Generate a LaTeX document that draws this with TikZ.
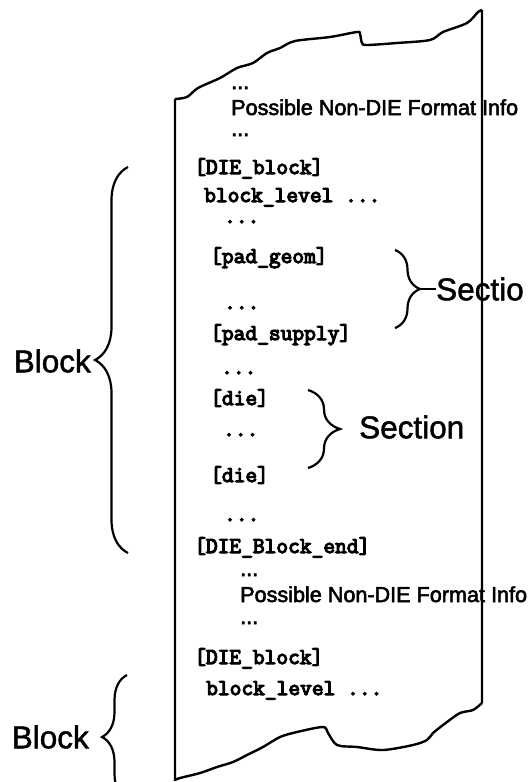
\documentclass[tikz,border=0pt]{standalone}
\usepackage{fontspec}
\setmainfont{Liberation Sans}
\newfontfamily\typefont{Latin Modern Mono}[FakeBold=5]
\newfontfamily\notefont{Liberation Sans}[FakeBold=2.5]
\newfontfamily\tagfont{Liberation Sans}[FakeBold=1.5]
\usetikzlibrary{decorations.pathreplacing}
\tikzset{
  code/.style={anchor=base west,inner sep=0,font=\fontsize{22.8}{26}\typefont},
  note/.style={anchor=base west,inner sep=0,font=\fontsize{21.6}{26}\notefont},
  tag/.style={anchor=west,inner sep=0,font=\fontsize{31.5}{36}\tagfont},
  curly/.style={line width=2.2pt,decorate,decoration={brace,amplitude=#1}},
  sheet/.style={line width=2.4pt,line join=round}
}
\begin{document}
\begin{tikzpicture}[x=1pt,y=-1pt]
  \useasboundingbox (0,0) rectangle (529,782);
  % first block of the file
  \node[note] (dots1) at (231,89) {...};
  \node[note] (info1) at (231,115) {Possible Non-DIE Format Info};
  \node[note] (dots2) at (231,136) {...};
  \node[code] (blk1) at (194,174) {[DIE\_block]};
  \node[code] (lvl1) at (204,202) {block\_level ...};
  \node[code] (dots3) at (224,223) {...};
  \node[code] (geom) at (210,263) {[pad\_geom]};
  \node[code] (dots4) at (224,309) {...};
  \node[code] (supply) at (210,340) {[pad\_supply]};
  \node[code] (dots5) at (221,374) {...};
  \node[code] (die1) at (210,405) {[die]};
  \node[code] (dots6) at (223,436) {...};
  \node[code] (die2) at (210,482) {[die]};
  \node[code] (dots7) at (224,521) {...};
  \node[code] (blkend) at (194,553) {[DIE\_Block\_end]};
  % second block
  \node[note] (dots8) at (240,576) {...};
  \node[note] (info2) at (240,602) {Possible Non-DIE Format Info};
  \node[note] (dots9) at (240,624) {...};
  \node[code] (blk2) at (194,664) {[DIE\_block]};
  \node[code] (lvl2) at (206,695) {block\_level ...};

  % braces and their labels
  \coordinate (b1 top) at (128,167);
  \coordinate (b1 bot) at (128,553);
  \draw[curly=33] (b1 bot) -- (b1 top);
  \node[tag,anchor=east] (block1) at (91,361) {Block};
  \coordinate (b2 top) at (127,675);
  \coordinate (b2 bot) at (127,799);
  \draw[curly=25] (b2 bot) -- (b2 top);
  \node[tag,anchor=east] (block2) at (89,737) {Block};
  \coordinate (s1 top) at (395,250);
  \coordinate (s1 bot) at (395,328);
  \coordinate (s1 tip) at (420,289);
  \draw[curly=25] (s1 top) -- (s1 bot);
  \node[tag] (sec1) at (436,289) {Sectio};
  \draw[line width=2.2pt] (s1 tip) -- (sec1.west);
  \coordinate (s2 top) at (308,390);
  \coordinate (s2 bot) at (308,468);
  \draw[curly=32] (s2 top) -- (s2 bot);
  \node[tag] (sec2) at (359,427) {Section};

  % torn sheet outline
  \draw[sheet] (482,10) -- (482,703)
    plot[smooth,tension=0.5] coordinates {(482,703) (473,710) (460,713) (447,722) (433,733) (427,740) (413,745) (383,750) (357,747) (337,745) (328,733) (323,727) (297,732) (280,737) (263,747) (247,755) (233,762) (217,767) (200,773) (180,778) (175,780)}
    -- (175,99)
    plot[smooth,tension=0.5] coordinates {(175,99) (187,97) (198,88) (220,78) (237,68) (253,63) (267,53) (280,48) (295,41) (330,37) (357,32) (360,34) (362,43) (367,45) (397,43) (430,40) (443,32) (467,23) (478,12) (482,10)};
\end{tikzpicture}
\end{document}
